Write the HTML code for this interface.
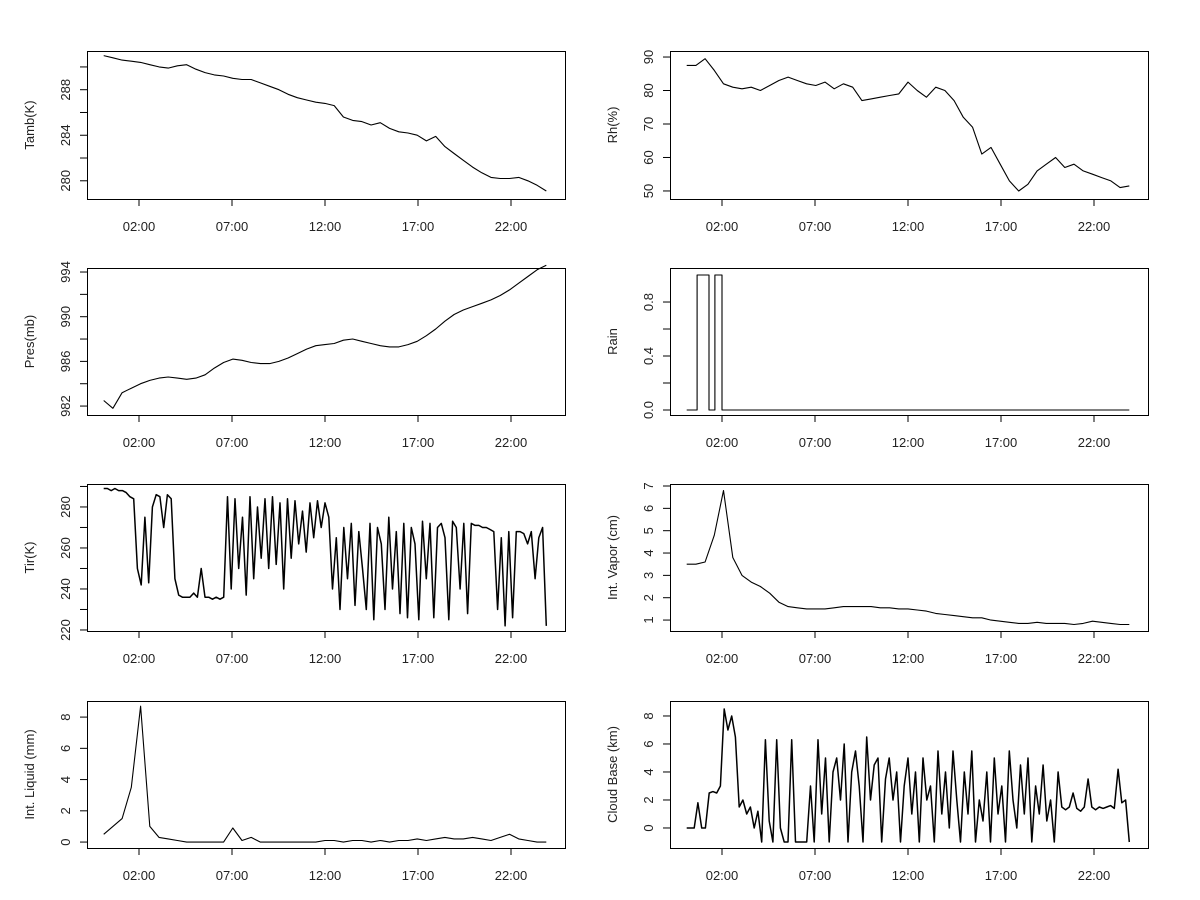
<!DOCTYPE html>
<html><head><meta charset="utf-8"><style>
body{margin:0;background:#fff;}
svg{display:block;font-family:"Liberation Sans",Arial,sans-serif;}
</style></head><body>
<svg id="c" width="1200" height="900" viewBox="0 0 1200 900"></svg>
<script>
const xTickLabels = ["02:00","07:00","12:00","17:00","22:00"];
const xTickHours = [2,7,12,17,22];
const tamb = [291,290.8,290.6,290.5,290.4,290.2,290.0,289.9,290.1,290.2,289.8,289.5,289.3,289.2,289.0,288.9,288.9,288.6,288.3,288.0,287.6,287.3,287.1,286.9,286.8,286.6,285.6,285.3,285.2,284.9,285.1,284.6,284.3,284.2,284.0,283.5,283.9,283.0,282.4,281.8,281.2,280.7,280.3,280.2,280.2,280.3,280.0,279.6,279.1];
const rh = [87.5,87.5,89.5,86,82,81,80.5,81,80,81.5,83,84,83,82,81.5,82.5,80.5,82,81,77,77.5,78,78.5,79,82.5,80,78,81,80,77,72,69,61,63,58,53,50,52,56,58,60,57,58,56,55,54,53,51,51.5];
const pres = [982.5,981.8,983.2,983.6,984.0,984.3,984.5,984.6,984.5,984.4,984.5,984.8,985.4,985.9,986.2,986.1,985.9,985.8,985.8,986.0,986.3,986.7,987.1,987.4,987.5,987.6,987.9,988.0,987.8,987.6,987.4,987.3,987.3,987.5,987.8,988.3,988.9,989.6,990.2,990.6,990.9,991.2,991.5,991.9,992.4,993.0,993.6,994.2,994.6];
const rainT = [0.1,0.66,1.3,1.62,2.0,23.9];
const rainV = [0,1,0,1,0,0];
const tir = [289,289,288,289,288,288,287,285,284,250,
242,275,243,280,286,285,270,286,284,245,
237,236,236,236,238,236,250,236,236,235,
236,235,236,285,240,284,250,275,237,285,
245,280,255,284,250,285,252,282,240,284,
255,283,262,278,258,282,265,283,270,282,
275,240,265,230,270,245,272,232,268,250,
230,272,225,270,262,230,275,240,268,228,
272,226,270,262,225,273,245,272,226,270,
272,265,225,273,270,240,272,228,272,271,
271,270,270,269,268,230,265,222,268,226,
268,268,267,262,268,245,265,270,222];
const vapor = [3.5,3.5,3.6,4.8,6.8,3.8,3.0,2.7,2.5,2.2,1.8,1.6,1.55,1.5,1.5,1.5,1.55,1.6,1.6,1.6,1.6,1.55,1.55,1.5,1.5,1.45,1.4,1.3,1.25,1.2,1.15,1.1,1.1,1.0,0.95,0.9,0.85,0.85,0.9,0.85,0.85,0.85,0.8,0.85,0.95,0.9,0.85,0.8,0.8];
const liquid = [0.5,1,1.5,3.5,8.7,1,0.3,0.2,0.1,0,0,0,0,0,0.9,0.1,0.3,0,0,0,0,0,0,0,0.1,0.1,0,0.1,0.1,0,0.1,0,0.1,0.1,0.2,0.1,0.2,0.3,0.2,0.2,0.3,0.2,0.1,0.3,0.5,0.2,0.1,0,0];
const cloud = [0,0,0,1.8,0,0,2.5,2.6,2.5,3,
8.5,7,8,6.5,1.5,2,1,1.5,0,1.2,
-1,6.3,0.5,-1,6.3,0,-1,-1,6.3,-1,
-1,-1,-1,3,-1,6.3,1,5,-1,4,
5,2,6,-1,4,5.5,3,-1,6.5,2,
4.5,5,-1,3.5,5,2,4,-1,3,5,
1,4,-1,5,2,3,-1,5.5,1,4,
0,5.5,2,-1,4,1,5.5,-1,2,0.5,
4,-1,5,1,3,-1,5.5,2,0,4.5,
1,5,-1,3,1,4.5,0.5,2,-1,4,
1.5,1.3,1.5,2.5,1.4,1.2,1.5,3.5,1.5,1.3,
1.5,1.4,1.5,1.6,1.4,4.2,1.8,2,-1];

const NS="http://www.w3.org/2000/svg";
const svg=document.getElementById('c');
function mk(tag,attrs,parent){const e=document.createElementNS(NS,tag);for(const k in attrs)e.setAttribute(k,attrs[k]);(parent||svg).appendChild(e);return e;}

const panels=[
 {name:'tamb',title:'Tamb(K)',col:0,row:0,data:tamb,ymin:278.4,ymax:291.4,labels:[280,284,288],minor:[280,282,284,286,288,290]},
 {name:'rh',title:'Rh(%)',col:1,row:0,data:rh,ymin:47.6,ymax:91.8,labels:[50,60,70,80,90],minor:[50,60,70,80,90]},
 {name:'pres',title:'Pres(mb)',col:0,row:1,data:pres,ymin:981.2,ymax:994.36,labels:[982,986,990,994],minor:[982,984,986,988,990,992,994]},
 {name:'rain',title:'Rain',col:1,row:1,step:true,ymin:-0.037,ymax:1.052,labels:[0,0.4,0.8],minor:[0,0.2,0.4,0.6,0.8],fmt:v=>v.toFixed(1)},
 {name:'tir',title:'Tir(K)',col:0,row:2,data:tir,sw:1.5,ymin:219.5,ymax:291.2,labels:[220,240,260,280],minor:[220,230,240,250,260,270,280,290]},
 {name:'vapor',title:'Int. Vapor (cm)',col:1,row:2,data:vapor,ymin:0.51,ymax:7.09,labels:[1,2,3,4,5,6,7],minor:[1,2,3,4,5,6,7]},
 {name:'liquid',title:'Int. Liquid (mm)',col:0,row:3,data:liquid,ymin:-0.38,ymax:9.03,labels:[0,2,4,6,8],minor:[0,2,4,6,8]},
 {name:'cloud',title:'Cloud Base (km)',col:1,row:3,data:cloud,sw:1.5,ymin:-1.43,ymax:9.07,labels:[0,2,4,6,8],minor:[0,2,4,6,8]}
];
const tops=[51,268,484,701], H=[148,147,147,147];
panels.forEach(p=>{
 const L=p.col?670:87, W=478, T=tops[p.row], Hh=H[p.row];
 const g=mk('g',{});
 
 
 const xs=t=>L+14.8+t*18.6;
 const ys=v=>T+Hh-(v-p.ymin)/(p.ymax-p.ymin)*Hh;
 const box=mk('rect',{x:L+0.5,y:T+0.5,width:W,height:Hh,fill:'none',stroke:'#000','stroke-width':1},g);
 
 
 let pts=[];
 if(p.step){for(let i=0;i<rainT.length;i++){if(i>0)pts.push([xs(rainT[i]),ys(rainV[i-1])]);pts.push([xs(rainT[i]),ys(rainV[i])]);}}
 else{const n=p.data.length;for(let i=0;i<n;i++){const t=0.1+i*(23.8/(n-1));pts.push([xs(t),ys(p.data[i])]);}}
 const line=mk('polyline',{points:pts.map(q=>q[0].toFixed(1)+','+q[1].toFixed(1)).join(' '),fill:'none',stroke:'#000','stroke-width':p.sw||1.1,'stroke-linejoin':'round'},g);
 
 
 xTickHours.forEach((h,i)=>{
  const x=xs(h);
  mk('line',{x1:x,y1:T+Hh,x2:x,y2:T+Hh+7,stroke:'#000'},g);
  const tx=mk('text',{x:x,y:T+Hh+32,'font-size':13,'text-anchor':'middle',fill:'#222'},g);
  tx.textContent=xTickLabels[i];
  
  
 });
 p.minor.forEach(v=>{const y=ys(v);mk('line',{x1:L,y1:y,x2:L-7,y2:y,stroke:'#000'},g);});
 p.labels.forEach(v=>{
  const y=ys(v);
  const tx=mk('text',{x:L-17,y:y,'font-size':13,'text-anchor':'middle',fill:'#222',transform:`rotate(-90 ${L-17} ${y})`},g);
  tx.textContent=p.fmt?p.fmt(v):String(v);
  
  
 });
 const cy=T+Hh/2, cx=L-53;
 const tt=mk('text',{x:cx,y:cy,'font-size':13,'text-anchor':'middle',fill:'#222',transform:`rotate(-90 ${cx} ${cy})`},g);
 tt.textContent=p.title;
 
 
});
</script>
</body></html>
